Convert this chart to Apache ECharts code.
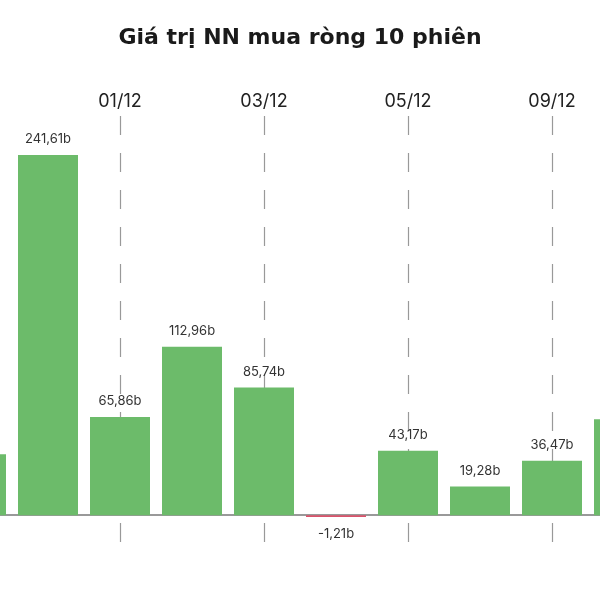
<!DOCTYPE html>
<html>
<head>
<meta charset="utf-8">
<script src="https://cdn.jsdelivr.net/npm/echarts@6/dist/echarts.min.js"></script>
<style>
html,body{margin:0;padding:0;background:#fff;overflow:hidden}
#wrap{position:relative;width:600px;height:600px;overflow:hidden}
#c{position:absolute;left:-60px;top:0;width:720px;height:600px}
</style>
</head>
<body>
<div id="wrap"><div id="c"></div></div>
<script>
const categories = ['27/11','28/11','01/12','02/12','03/12','04/12','05/12','08/12','09/12','10/12'];
const values = [40.95, 241.61, 65.86, 112.96, 85.74, -1.21, 43.17, 19.28, 36.47, 64.4];
const markedDates = ['01/12','03/12','05/12','09/12'];
const titleText = 'Giá trị NN mua ròng 10 phiên';

const Y_MIN = -20, Y_MAX = 267.8;
const FONT = 'Inter, "Noto Sans", sans-serif';
const chart = echarts.init(document.getElementById('c'), null, {renderer: 'canvas'});
const barData = values.map(v => ({
  value: v,
  itemStyle: {color: v < 0 ? '#d9536b' : '#6cbb6a'},
  label: {position: v < 0 ? 'bottom' : 'top', distance: v < 0 ? 11 : 9}
}));
chart.setOption({
  animation: false,
  backgroundColor: '#ffffff',
  title: {
    text: titleText, left: 'center', top: 22,
    textStyle: {fontFamily: '"DejaVu Sans", sans-serif', fontSize: 22, fontWeight: 'bold', color: '#1a1a1a'}
  },
  grid: {left: 0, right: 0, top: 116, bottom: 55},
  xAxis: [{
    type: 'category', data: categories, position: 'top',
    axisLine: {show: false, onZero: false}, axisTick: {show: false},
    axisLabel: {interval: 1, margin: 5, fontSize: 18, color: '#222', fontFamily: FONT},
    splitLine: {show: false}
  }, {
    type: 'category', data: categories, position: 'bottom',
    axisLine: {show: true, onZero: true, lineStyle: {color: '#777', width: 1.5}},
    axisTick: {show: false}, axisLabel: {show: false}, splitLine: {show: false}
  }],
  yAxis: {type: 'value', min: Y_MIN, max: Y_MAX, show: false, splitLine: {show: false}},
  series: [{
    type: 'bar', xAxisIndex: 0, data: barData, barWidth: 60, z: 3,
    label: {show: true, fontSize: 13, color: '#333', fontFamily: FONT,
      formatter: p => p.value.toFixed(2).replace('.', ',') + 'b'},
    markLine: {
      z: 1, silent: true, symbol: 'none', label: {show: false},
      lineStyle: {color: '#999', width: 1.2, type: [19, 18]},
      data: markedDates.map(d => [{xAxis: d, yAxis: Y_MAX}, {xAxis: d, yAxis: Y_MIN}])
    }
  }]
});
</script>
</body>
</html>
